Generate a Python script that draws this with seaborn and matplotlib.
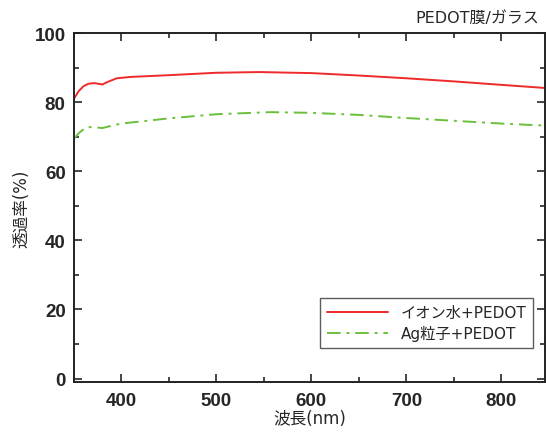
import numpy as np
import pandas as pd
import seaborn as sns
import matplotlib.pyplot as plt
from matplotlib.ticker import MultipleLocator

# wavelength (nm) and transmittance (%)
wl_ion = [350, 355, 360, 365, 371, 376, 380, 385, 395, 410, 450, 500, 545, 600, 650, 700, 750, 800, 846]
tr_ion = [81.0, 83.2, 84.6, 85.3, 85.5, 85.3, 85.1, 85.8, 86.9, 87.3, 87.8, 88.5, 88.7, 88.4, 87.7, 86.9, 86.0, 85.0, 84.1]

wl_ag = [350, 355, 363, 372, 380, 390, 400, 450, 500, 557, 600, 650, 700, 750, 800, 846]
tr_ag = [69.4, 71.0, 72.8, 72.7, 72.5, 73.2, 73.8, 75.3, 76.5, 77.1, 76.9, 76.3, 75.4, 74.6, 73.8, 73.2]

label_ion = "イオン水+PEDOT"
label_ag = "Ag粒子+PEDOT"

sns.set_style("ticks")
plt.rcParams["font.family"] = ["DejaVu Sans", "Noto Sans CJK JP"]

fig = plt.figure(figsize=(5.46, 4.35), dpi=100)
ax = fig.add_axes([0.1355, 0.1195, 0.8626, 0.8023])

df_ion = pd.DataFrame({"wl": wl_ion, "tr": tr_ion})
df_ag = pd.DataFrame({"wl": wl_ag, "tr": tr_ag})
sns.lineplot(data=df_ion, x="wl", y="tr", ax=ax, color="#ee2a2a", lw=1.4, label=label_ion)
sns.lineplot(data=df_ag, x="wl", y="tr", ax=ax, color="#6cbf3c", lw=1.4,
             dashes=False, label=label_ag)
ax.lines[-1].set_dashes([7, 3, 1.5, 3])

ax.set_xlim(350, 846)
ax.set_ylim(-1, 100)
ax.xaxis.set_major_locator(MultipleLocator(100))
ax.xaxis.set_minor_locator(MultipleLocator(50))
ax.yaxis.set_major_locator(MultipleLocator(20))
ax.yaxis.set_minor_locator(MultipleLocator(10))
ax.tick_params(which="both", direction="in", top=True, right=True, width=1.2)
ax.tick_params(which="major", length=6)
ax.tick_params(which="minor", length=3.5)
ax.tick_params(axis="y", pad=6)
ax.tick_params(axis="x", pad=7)
for s in ax.spines.values():
    s.set_linewidth(1.4)
    s.set_color("#222222")
for lab in ax.get_xticklabels() + ax.get_yticklabels():
    lab.set_family("Liberation Sans")
    lab.set_fontweight("bold")
    lab.set_fontsize(13.5)

ax.set_xlabel("波長(nm)", fontsize=12, labelpad=0)
ax.set_ylabel("透過率(%)", fontsize=12, labelpad=3)

leg = ax.legend(loc="lower right", bbox_to_anchor=(0.985, 0.085), fontsize=11,
                frameon=True, fancybox=False, edgecolor="#333333",
                handlelength=4.0, borderpad=0.45, labelspacing=0.3,
                borderaxespad=0.3)
leg.get_frame().set_linewidth(1.0)

fig.text(0.988, 0.957, "PEDOT膜/ガラス", ha="right", va="center", fontsize=11.5)

fig.savefig("out.png", dpi=100, facecolor="white")
